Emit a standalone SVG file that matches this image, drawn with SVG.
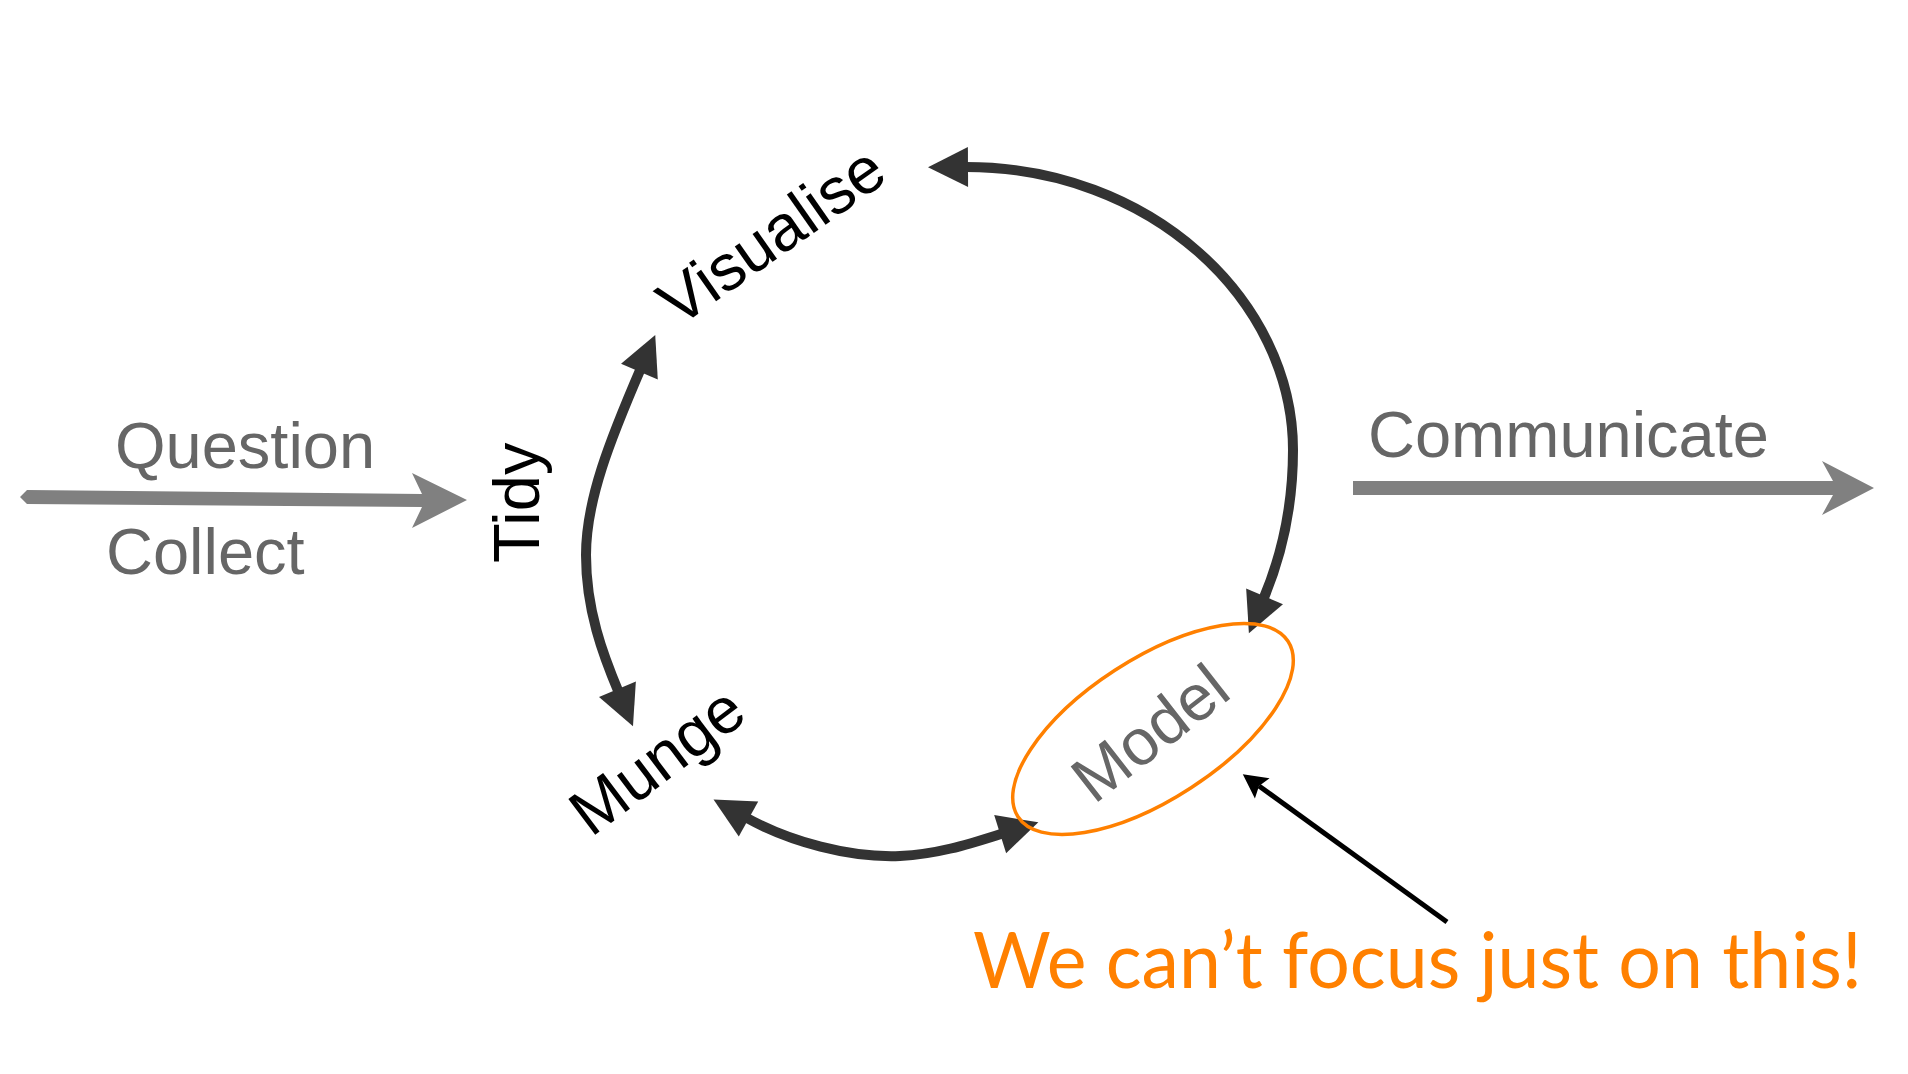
<svg xmlns="http://www.w3.org/2000/svg" width="1908" height="1074" viewBox="0 0 1908 1074">
  <style>
    .lbl { font-family: "Liberation Sans", Arial, sans-serif; font-size: 65px; }
    .gray { fill: #666666; }
    .black { fill: #000000; }
    .cycle { fill: none; stroke: #333333; stroke-width: 10; stroke-linecap: butt; }
    .flow { fill: #808080; }
    .note { font-family: "Lato", "Open Sans", sans-serif; font-size: 77px; fill: #FF8000; }
  </style>
  <defs>
    <marker id="ah" markerUnits="userSpaceOnUse" markerWidth="44" markerHeight="44" refX="4" refY="20" orient="auto-start-reverse" overflow="visible">
      <path d="M0,0 L40,20 L0,40 Z" fill="#333333"/>
    </marker>
    <marker id="ptr" markerUnits="userSpaceOnUse" markerWidth="30" markerHeight="30" refX="4" refY="12.5" orient="auto" overflow="visible">
      <path d="M0,0 L24,12.5 L0,25 L4,12.5 Z" fill="#000000"/>
    </marker>
  </defs>
  <rect width="1908" height="1074" fill="#ffffff"/>

  <g id="connectors">
    <polygon class="flow" points="20,497 27,490 422,494 412,473 467,500 412,528 422,507 27,504"/>
    <polygon class="flow" points="1353,481 1833,481 1822,461 1874,488 1822,515 1833,495 1353,495"/>
    <path class="cycle" d="M641,368 C610,440 586,500 586,555 C586,610 603,655 619,693" marker-start="url(#ah)" marker-end="url(#ah)"/>
    <path class="cycle" d="M964,167 C1150,166 1293,300 1293,450 C1293,510 1280,560 1263,600" marker-start="url(#ah)" marker-end="url(#ah)"/>
    <path class="cycle" d="M745,817 C790,842 850,858 900,856 C940,854 972,843 1004,833" marker-start="url(#ah)" marker-end="url(#ah)"/>
    <line x1="1447" y1="922" x2="1259" y2="786" stroke="#000000" stroke-width="5" marker-end="url(#ptr)"/>
  </g>

  <g id="node-question"><text class="lbl gray" x="115" y="468">Question</text></g>
  <g id="node-collect"><text class="lbl gray" x="106" y="574">Collect</text></g>
  <g id="node-tidy"><text class="lbl black" transform="translate(539,563) rotate(-90)">Tidy</text></g>
  <g id="node-visualise"><text class="lbl black" transform="translate(678,328) rotate(-35)">Visualise</text></g>
  <g id="node-munge"><text class="lbl black" transform="translate(591,838) rotate(-37)">Munge</text></g>
  <g id="node-model">
    <text class="lbl gray" transform="translate(1094,805) rotate(-38)">Model</text>
    <ellipse cx="1153" cy="729" rx="161" ry="70" transform="rotate(-33 1153 729)" fill="none" stroke="#FF8000" stroke-width="3.5"/>
  </g>
  <g id="node-communicate"><text class="lbl gray" x="1368" y="457">Communicate</text></g>
  <g id="node-note"><text class="note" x="973" y="988" textLength="889" lengthAdjust="spacingAndGlyphs">We can’t focus just on this!</text></g>
</svg>
